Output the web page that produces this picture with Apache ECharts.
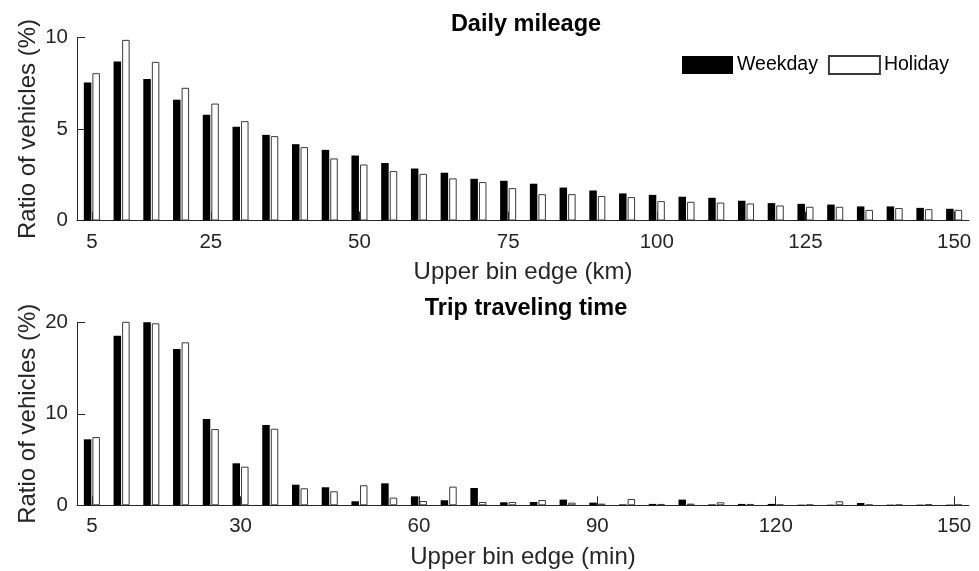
<!DOCTYPE html>
<html>
<head>
<meta charset="utf-8">
<script src="https://cdn.jsdelivr.net/npm/echarts@6/dist/echarts.min.js"></script>
<style>
  html, body { margin: 0; padding: 0; background: #fff; }
  #chart { width: 979px; height: 571px; }
</style>
</head>
<body>
<div id="chart"></div>
<script>
// Bin upper edges (km) for daily mileage
const mileageBins = [5, 10, 15, 20, 25, 30, 35, 40, 45, 50, 55, 60, 65, 70, 75,
  80, 85, 90, 95, 100, 105, 110, 115, 120, 125, 130, 135, 140, 145, 150];
const mileageWeekday = [7.54, 8.69, 7.73, 6.60, 5.78, 5.12, 4.68, 4.17, 3.86, 3.55,
  3.14, 2.84, 2.61, 2.28, 2.17, 2.01, 1.80, 1.64, 1.48, 1.40,
  1.30, 1.24, 1.08, 0.95, 0.91, 0.87, 0.77, 0.77, 0.69, 0.64];
const mileageHoliday = [8.05, 9.87, 8.67, 7.25, 6.39, 5.43, 4.61, 4.01, 3.39, 3.06,
  2.70, 2.55, 2.30, 2.10, 1.77, 1.44, 1.44, 1.34, 1.28, 1.06,
  1.02, 0.98, 0.93, 0.82, 0.75, 0.75, 0.58, 0.68, 0.62, 0.58];
const mileageTicks = [5, 25, 50, 75, 100, 125, 150];

// Bin upper edges (min) for trip traveling time
const timeBins = [5, 10, 15, 20, 25, 30, 35, 40, 45, 50, 55, 60, 65, 70, 75,
  80, 85, 90, 95, 100, 105, 110, 115, 120, 125, 130, 135, 140, 145, 150];
const timeWeekday = [7.21, 18.54, 20.1, 17.08, 9.43, 4.59, 8.78, 2.25, 1.97, 0.44,
  2.40, 0.98, 0.55, 1.89, 0.33, 0.36, 0.62, 0.29, 0.10, 0.15,
  0.62, 0.10, 0.15, 0.15, 0.07, 0.07, 0.25, 0.07, 0.07, 0.07];
const timeHoliday = [7.46, 20.1, 19.89, 17.81, 8.34, 4.22, 8.37, 1.86, 1.53, 2.19,
  0.84, 0.47, 2.04, 0.36, 0.36, 0.58, 0.29, 0.18, 0.69, 0.15,
  0.18, 0.33, 0.15, 0.07, 0.07, 0.44, 0.07, 0.07, 0.12, 0.07];
const timeTicks = [5, 30, 60, 90, 120, 150];

const FONT = 'Liberation Sans, Arial, sans-serif';
const INK = '#262626';

function xAxisFor(gridIndex, bins, ticks, name) {
  const pick = (idx, val) => ticks.indexOf(Number(val)) !== -1;
  return {
    type: 'category', gridIndex, data: bins.map(String),
    name, nameLocation: 'middle', nameGap: 40,
    nameTextStyle: { fontFamily: FONT, fontSize: 24, color: INK },
    axisLine: { lineStyle: { color: INK, width: 1 } },
    axisTick: { show: true, inside: true, length: 9, alignWithLabel: true,
      interval: pick, lineStyle: { color: INK } },
    axisLabel: { interval: pick, margin: 11, fontFamily: FONT, fontSize: 20.5, color: INK },
    splitLine: { show: false }
  };
}

function yAxisFor(gridIndex, max, step) {
  return {
    type: 'value', gridIndex, min: 0, max, interval: step,
    name: 'Ratio of vehicles (%)', nameLocation: 'middle', nameGap: 37,
    nameMoveOverlap: false,
    nameTextStyle: { fontFamily: FONT, fontSize: 24, color: INK },
    axisLine: { show: true, lineStyle: { color: INK, width: 1 } },
    axisTick: { show: true, inside: true, length: 8, lineStyle: { color: INK } },
    axisLabel: { margin: 9, fontFamily: FONT, fontSize: 20.5, color: INK },
    splitLine: { show: false }
  };
}

const weekdayStyle = { color: '#000000' };
const holidayStyle = { color: '#ffffff', borderColor: '#3a3a3a', borderWidth: 1 };

function barSeries(name, data, style, idx) {
  return {
    type: 'bar', name, data, xAxisIndex: idx, yAxisIndex: idx,
    barWidth: 7.5, barGap: '14%', itemStyle: style,
    emphasis: { disabled: true }, animation: false
  };
}

const chart = echarts.init(document.getElementById('chart'), null, { renderer: 'canvas' });
chart.setOption({
  backgroundColor: '#ffffff',
  animation: false,
  title: [
    { text: 'Daily mileage', left: 521, top: 8, textAlign: 'center',
      textStyle: { fontFamily: FONT, fontSize: 23.5, fontWeight: 'bold', color: '#000' } },
    { text: 'Trip traveling time', left: 521, top: 292, textAlign: 'center',
      textStyle: { fontFamily: FONT, fontSize: 23.5, fontWeight: 'bold', color: '#000' } }
  ],
  legend: {
    left: 682, top: 55, padding: 0, itemWidth: 51, itemHeight: 18, itemGap: 10,
    icon: 'rect',
    textStyle: { fontFamily: FONT, fontSize: 19.5, color: '#000', padding: [0, 0, 0, -1] },
    data: ['Weekday', 'Holiday']
  },
  grid: [
    { left: 77, right: 10, top: 37.5, height: 183 },
    { left: 77, right: 10, top: 322.3, height: 183 }
  ],
  xAxis: [
    xAxisFor(0, mileageBins, mileageTicks, 'Upper bin edge (km)'),
    xAxisFor(1, timeBins, timeTicks, 'Upper bin edge (min)')
  ],
  yAxis: [
    yAxisFor(0, 10, 5),
    yAxisFor(1, 20, 10)
  ],
  series: [
    barSeries('Weekday', mileageWeekday, weekdayStyle, 0),
    barSeries('Holiday', mileageHoliday, holidayStyle, 0),
    barSeries('Weekday', timeWeekday, weekdayStyle, 1),
    barSeries('Holiday', timeHoliday, holidayStyle, 1)
  ]
});
</script>
</body>
</html>
